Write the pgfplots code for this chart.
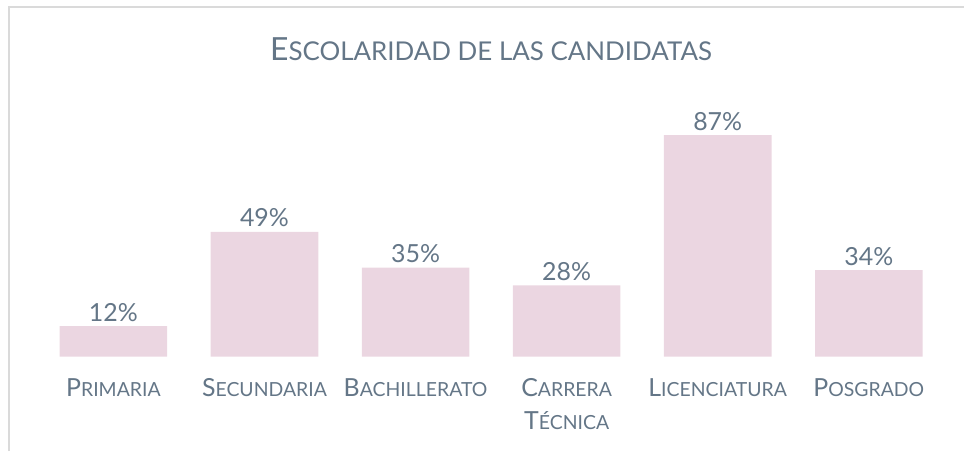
\documentclass[border=0pt]{standalone}
\usepackage{pgfplots}
\pgfplotsset{compat=1.18}
\usepackage{fontspec}
\setmainfont{Lato}
\usetikzlibrary{calc}

\definecolor{barpink}{HTML}{EBD6E1}
\definecolor{txtgray}{HTML}{647687}
\definecolor{framegray}{HTML}{DADADA}

% hand-made small caps: big first letter, smaller capitals after it
\newcommand\sclab[2]{#1{\fontsize{19.5bp}{33bp}\selectfont #2}}

\begin{document}
\begin{tikzpicture}
\begin{axis}[
    name=ax,
    scale only axis,
    width=910bp, height=255.5bp,
    xmin=-0.5, xmax=5.5,
    ymin=0, ymax=100,
    clip=false,
    axis line style={draw=none},
    major tick length=0pt,
    ytick=\empty,
    xtick=data,
    /pgf/number format/assume math mode=true,
    xticklabels={\sclab{P}{RIMARIA},\sclab{S}{ECUNDARIA},\sclab{B}{ACHILLERATO},
                 {\sclab{C}{ARRERA}\\\sclab{T}{ÉCNICA}},\sclab{L}{ICENCIATURA},\sclab{P}{OSGRADO}},
    xticklabel style={font=\fontsize{25bp}{33bp}\selectfont, text=txtgray,
                      align=center, anchor=north, inner sep=0pt, yshift=-22bp},
    nodes near coords={\pgfmathprintnumber{\pgfplotspointmeta}\%},
    every node near coord/.append style={font=\fontsize{25bp}{30bp}\selectfont,
                      text=txtgray, anchor=base, yshift=5bp, inner sep=0pt},
    ]
    \addplot[ybar, bar width=0.712, fill=barpink, draw=none] coordinates {
        (0,12) (1,49) (2,35) (3,28) (4,87) (5,34)
    };
\end{axis}
% title
\node[anchor=base, text=txtgray, font=\fontsize{32bp}{38bp}\selectfont]
    at ($(ax.north)+(0,41.5bp)$)
    {E{\fontsize{26bp}{38bp}\selectfont SCOLARIDAD DE LAS CANDIDATAS}};
% chart frame, cut at right and bottom
\draw[framegray, line width=1.5bp]
    ($(ax.south west)+(-29bp,-95bp)$) -- ($(ax.south west)+(-29bp,351bp)$)
    -- ($(ax.south west)+(930bp,351bp)$);
\path[use as bounding box] ($(ax.south west)+(-38bp,-94bp)$) rectangle +(965bp,452bp);
\end{tikzpicture}
\end{document}
